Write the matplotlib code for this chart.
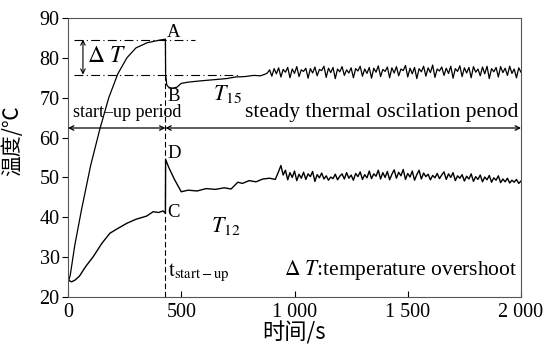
import matplotlib
matplotlib.use("Agg")
import matplotlib.pyplot as plt
from matplotlib.ticker import FuncFormatter

plt.rcParams['font.family'] = ['Liberation Serif', 'DejaVu Serif']
plt.rcParams['mathtext.fontset'] = 'stix'

# T15: start-up and transition part
t15_time = [0, 10, 30, 60, 100, 140, 180, 220, 260, 300, 350, 400, 430,
            431, 436, 445, 460, 480, 500, 530, 580, 640, 700, 740, 780, 820, 850, 870]
t15_val = [23.5, 25.5, 33, 42, 53, 62, 70, 76, 80, 82.5, 83.8, 84.4, 84.7,
           76, 73.2, 72.6, 72.4, 72.6, 73.6, 73.9, 74.2, 74.5, 74.8, 75.2, 75.3, 75.6, 75.5, 75.9]
# T15: steady oscillation, every 10 s from 880 s to 2000 s
t15_osc_start = 880
t15_osc = [
    76.2, 77.0, 75.4, 77.3, 76.0, 77.5, 75.2, 77.1, 76.4, 77.6,
    75.0, 77.2, 76.1, 77.8, 75.3, 77.0, 76.6, 77.4, 74.9, 77.3,
    76.2, 77.7, 75.5, 77.1, 76.8, 77.9, 75.1, 77.4, 76.3, 77.6,
    74.8, 77.2, 76.5, 77.8, 75.6, 77.0, 76.2, 77.5, 75.0, 77.3,
    76.7, 77.9, 75.4, 77.2, 76.1, 77.6, 74.9, 77.4, 76.4, 78.0,
    75.3, 77.1, 76.6, 77.7, 75.0, 77.5, 76.2, 77.8, 75.5, 77.2,
    76.8, 78.1, 75.2, 77.4, 76.0, 77.6, 74.8, 77.3, 76.5, 77.9,
    75.4, 77.5, 76.3, 78.2, 75.1, 77.2, 76.7, 77.7, 75.6, 77.4,
    76.1, 77.9, 74.9, 77.3, 76.6, 78.0, 75.3, 77.5, 76.2, 77.6,
    75.0, 77.8, 76.4, 77.2, 75.5, 77.7, 76.0, 77.9, 74.8, 77.3,
    76.5, 77.6, 75.2, 77.8, 76.3, 77.4, 75.6, 77.9, 76.1, 77.2,
    75.0, 77.5, 76.4]

# T12: start-up and transition part
t12_time = [0, 15, 30, 50, 80, 110, 150, 185, 220, 260, 300, 347, 376, 400, 420, 430,
            431, 445, 470, 500, 530, 570, 610, 650, 690, 720, 750, 770, 800, 830, 860, 890, 915, 930]
t12_val = [24.3, 23.8, 24.2, 25.2, 27.8, 30.0, 33.5, 36.0, 37.2, 38.5, 39.5, 40.3, 41.4, 41.2, 41.6, 41.0,
           54.5, 52.5, 49.5, 46.4, 46.8, 46.6, 47.2, 47.0, 47.4, 47.1, 48.8, 48.5, 49.2, 48.9, 49.6, 49.8, 49.5, 51.5]
# T12: steady oscillation, every 10 s from 940 s to 2000 s
t12_osc_start = 940
t12_osc = [
    53.0, 50.6, 51.8, 49.4, 51.2, 50.0, 51.6, 49.2, 50.8, 49.8,
    51.3, 49.5, 50.9, 50.2, 51.5, 49.0, 50.7, 49.9, 51.1, 49.6,
    50.4, 49.3, 50.1, 49.7, 50.8, 49.4, 50.3, 50.9, 49.6, 51.2,
    49.8, 50.6, 49.3, 51.0, 50.2, 51.4, 49.5, 50.7, 49.9, 51.6,
    49.7, 50.9, 50.3, 51.8, 49.6, 51.2, 50.0, 51.5, 49.4, 50.8,
    51.9, 49.8, 51.3, 50.4, 52.0, 49.5, 51.0, 50.1, 51.6, 49.3,
    50.7, 51.8, 49.6, 51.1, 50.2, 50.8, 49.4, 50.5, 49.9, 51.0,
    49.7, 50.6, 51.4, 49.5, 50.9, 50.0, 51.2, 49.2, 50.4, 49.8,
    50.7, 49.1, 50.3, 49.6, 50.9, 49.0, 50.2, 49.5, 50.6, 48.9,
    50.1, 49.4, 50.5, 48.8, 49.9, 49.3, 50.4, 48.7, 49.6, 48.9,
    49.8, 48.6, 49.3, 48.8, 49.5, 48.5, 49.1]

t_startup = 430
temp_A = 84.6
temp_B_ref = 75.8
split_temp = 62.4

x15 = t15_time + [t15_osc_start + 10 * i for i in range(len(t15_osc))]
y15 = t15_val + t15_osc
x12 = t12_time + [t12_osc_start + 10 * i for i in range(len(t12_osc))]
y12 = t12_val + t12_osc

fig = plt.figure(figsize=(5.51, 3.52), dpi=100)
ax = fig.add_axes([68 / 551, 1 - 297 / 352, 453 / 551, 279 / 352])

ax.plot(x15, y15, color='black', lw=0.9)
ax.plot(x12, y12, color='black', lw=1.0)

# start-up marker and overshoot guides
ax.plot([t_startup, t_startup], [20, temp_A], color='black', lw=0.8, ls=(0, (5, 2.5)))
ax.plot([25, 560], [temp_A, temp_A], color='black', lw=0.8, ls=(0, (8, 3, 1, 3)))
ax.plot([25, 760], [temp_B_ref, temp_B_ref], color='black', lw=0.8, ls=(0, (8, 3, 1, 3)))
ax.annotate('', xy=(66, temp_A), xytext=(66, temp_B_ref),
            arrowprops=dict(arrowstyle='<->', lw=0.8, color='black', shrinkA=0, shrinkB=0,
                            mutation_scale=8))
ax.text(82, 80.3, r'$\Delta\ T$', fontsize=17, va='center')

# period arrows
ax.annotate('', xy=(0, split_temp), xytext=(t_startup, split_temp),
            arrowprops=dict(arrowstyle='<->', lw=0.9, color='black', shrinkA=0, shrinkB=0,
                            mutation_scale=8))
ax.annotate('', xy=(t_startup, split_temp), xytext=(2000, split_temp),
            arrowprops=dict(arrowstyle='<->', lw=0.9, color='black', shrinkA=0, shrinkB=0,
                            mutation_scale=8))
ax.text(22, 66.3, 'start\u2013up period', fontsize=13, va='center')
ax.text(1990, 66.3, 'steady thermal oscilation penod', fontsize=15.5, va='center', ha='right')

ax.text(438, 86.3, 'A', fontsize=13.5, va='center')
ax.text(438, 70.4, 'B', fontsize=13.5, va='center')
ax.text(438, 56.0, 'D', fontsize=13.5, va='center')
ax.text(438, 41.2, 'C', fontsize=13.5, va='center')
ax.text(640, 71.0, r'$T_{15}$', fontsize=16, va='center')
ax.text(630, 37.8, r'$T_{12}$', fontsize=16, va='center')
ax.text(440, 26.0, r'$\mathrm{t}_{\mathrm{start-up}}$', fontsize=15, va='center')
ax.text(1985, 26.8, r'$\Delta\ T$:temperature overshoot', fontsize=15.5, va='center', ha='right')

ax.set_xlim(0, 2000)
ax.set_ylim(20, 90)
ax.set_xticks([0, 500, 1000, 1500, 2000])
ax.set_yticks([20, 30, 40, 50, 60, 70, 80, 90])
ax.xaxis.set_major_formatter(FuncFormatter(lambda v, p: f'{int(v):,}'.replace(',', ' ')))
ax.tick_params(axis='x', direction='in', length=4, labelsize=14.5, pad=4)
ax.tick_params(axis='y', direction='out', length=4, labelsize=14.5, pad=2)
for s in ax.spines.values():
    s.set_linewidth(0.8)
    s.set_color('#555555')

ax.set_xlabel('时间/s', fontsize=16, family=['Noto Sans CJK SC', 'DejaVu Sans'], labelpad=0)
ax.set_ylabel('温度/℃', fontsize=15, family=['Noto Sans CJK SC', 'DejaVu Sans'])
ax.yaxis.set_label_coords(-0.098, 0.559)

fig.savefig('out.png', dpi=100)
